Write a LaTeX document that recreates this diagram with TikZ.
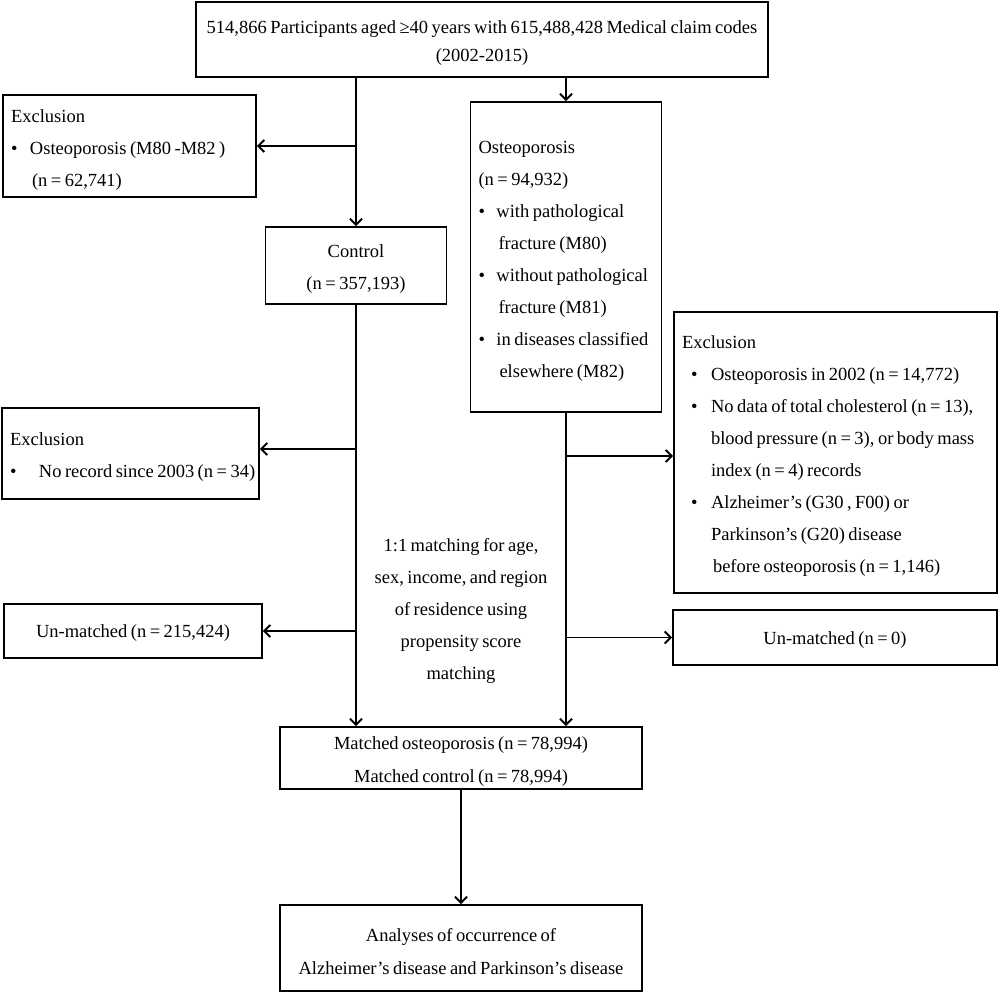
\documentclass[tikz,border=0pt]{standalone}
\usepackage{fontspec}
\setmainfont{Liberation Serif}[WordSpace=0.75]
\usetikzlibrary{arrows.meta}
\newcommand\mybul[1]{\makebox[#1][l]{\textbullet}}
\newcommand\tstrut{\rule{0pt}{20.5pt}}
\tikzset{
  stbox/.style={draw, line width=1.9pt, inner xsep=8pt, inner ysep=0pt,
    font=\fontsize{18.5}{32}\selectfont},
  lbox/.style={stbox, align=flush left},
  cbox/.style={stbox, align=center},
  conn/.style={line width=1.9pt},
  arr/.style={conn, -{Straight Barb[length=6pt,width=12pt,line width=1.9pt]}},
}
\begin{document}
\begin{tikzpicture}[x=1pt,y=-1pt]
\useasboundingbox[fill=white] (0,0) rectangle (1000,993);

\node[cbox, minimum width=572pt, minimum height=75pt, font=\fontsize{18.5}{28}\selectfont] (top) at (482,39.5)
  {\tstrut 514,866 Participants aged ≥40 years with 615,488,428 Medical claim codes\\(2002-2015)};

\node[lbox, minimum width=253pt, minimum height=102pt, text width=237pt] (excl1) at (129.5,146)
  {\tstrut Exclusion\\\mybul{19pt}Osteoporosis (M80 -M82 )\\\hspace*{21pt}(n = 62,741)};

\node[cbox, minimum width=181pt, minimum height=77pt] (control) at (356,265.5)
  {\tstrut Control\\(n = 357,193)};

\node[lbox, minimum width=189pt, minimum height=310pt, text width=175pt] (osteo) at (566,257)
  {\tstrut Osteoporosis\\(n = 94,932)\\
   \mybul{18pt}with pathological\\\hspace*{20pt}fracture (M80)\\
   \mybul{18pt}without pathological\\\hspace*{20pt}fracture (M81)\\
   \mybul{18pt}in diseases classified\\\hspace*{21pt}elsewhere (M82)};

\node[lbox, minimum width=323pt, minimum height=281pt, text width=307pt] (excl2) at (835.5,452.5)
  {\tstrut Exclusion\\
   \hspace*{9pt}\mybul{20pt}Osteoporosis in 2002 (n = 14,772)\\
   \hspace*{9pt}\mybul{20pt}No data of total cholesterol (n = 13),\\
   \hspace*{29pt}blood pressure (n = 3), or body mass\\
   \hspace*{29pt}index (n = 4) records\\
   \hspace*{9pt}\mybul{20pt}Alzheimer’s (G30 , F00) or\\
   \hspace*{29pt}Parkinson’s (G20) disease\\
   \hspace*{31pt}before osteoporosis (n = 1,146)};

\node[lbox, minimum width=257pt, minimum height=91pt, text width=241pt] (excl3) at (130.5,453.5)
  {\tstrut Exclusion\\\mbox{\mybul{29pt}No record since 2003 (n = 34)}};

\node[cbox, minimum width=258pt, minimum height=54pt] (unm1) at (133,631)
  {\rule{0pt}{17pt}Un-matched (n = 215,424)};

\node[cbox, minimum width=324pt, minimum height=55pt] (unm2) at (835,637.5)
  {\rule{0pt}{17pt}Un-matched (n = 0)};

\node[align=center, font=\fontsize{18.5}{32}\selectfont, inner sep=0pt] (matchtxt) at (461,611)
  {1:1 matching for age,\\sex, income, and region\\of residence using\\propensity score\\matching};

\node[cbox, minimum width=362pt, minimum height=62pt, font=\fontsize{18.5}{33}\selectfont] (matched) at (461,758)
  {\tstrut Matched osteoporosis (n = 78,994)\\Matched control (n = 78,994)};

\node[cbox, minimum width=362pt, minimum height=86pt, font=\fontsize{18.5}{33}\selectfont] (analyses) at (461,948)
  {\tstrut Analyses of occurrence of\\Alzheimer’s disease and Parkinson’s disease};

% connectors
\draw[arr] (control.north |- top.south) -- (control.north);
\coordinate (b1) at (control.north |- excl1.east);
\draw[arr] (b1) -- (excl1.east);

\draw[arr] (osteo.north |- top.south) -- (osteo.north);

\draw[arr] (control.south) -- (control.south |- matched.north);
\coordinate (b3) at (control.south |- excl3.east);
\draw[arr] ([yshift=4.5pt]b3) -- ([yshift=4.5pt]excl3.east);
\coordinate (b4) at (control.south |- unm1.east);
\draw[arr] (b4) -- (unm1.east);

\draw[arr] (osteo.south) -- (osteo.south |- matched.north);
\coordinate (b2) at (osteo.south |- excl2.west);
\draw[arr] ([yshift=-3.5pt]b2) -- ([yshift=-3.5pt]excl2.west);
\coordinate (b5) at (osteo.south |- unm2.west);
\draw[arr] (b5) -- (unm2.west);

\draw[arr] (matched.south) -- (analyses.north);
\end{tikzpicture}
\end{document}
